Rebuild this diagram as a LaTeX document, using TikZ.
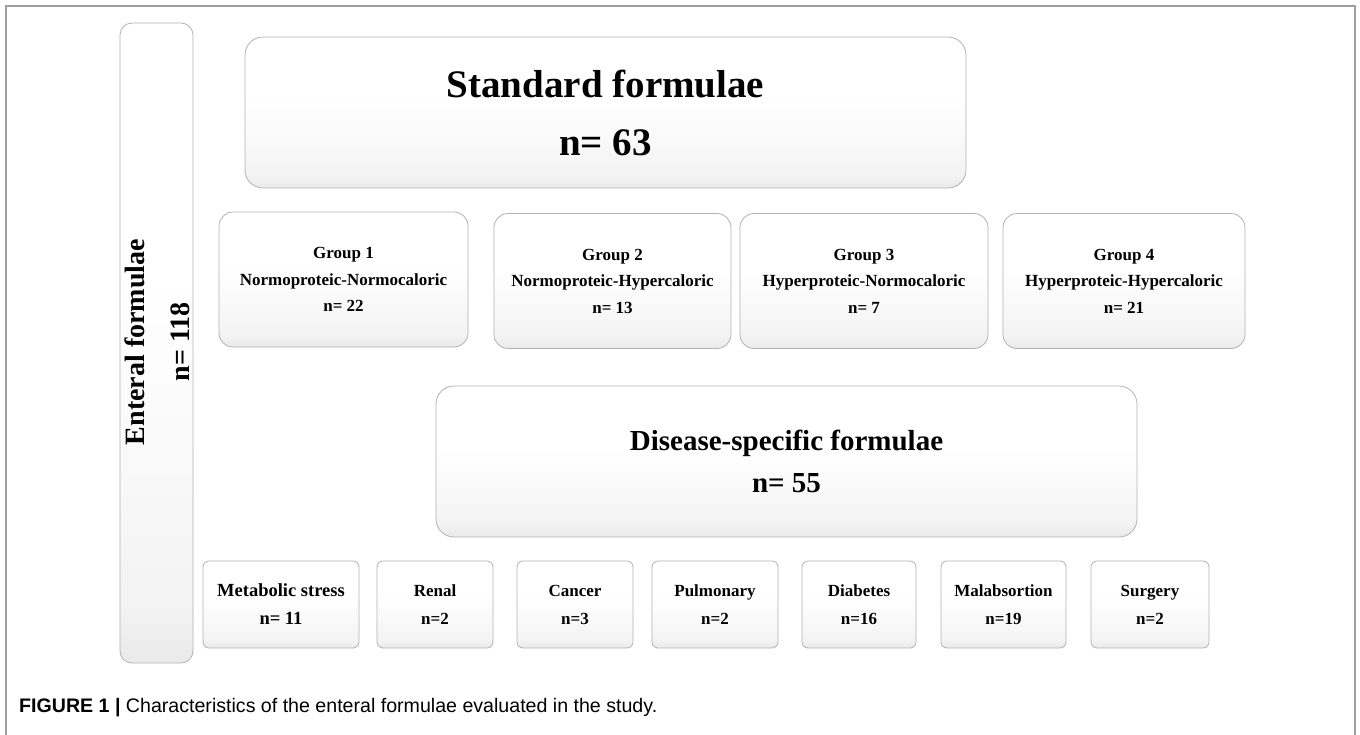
\documentclass[tikz,border=0pt]{standalone}
\usepackage{fontspec}
\setmainfont{Liberation Serif}
\newfontfamily\capfont{Liberation Sans}
\usetikzlibrary{shapes,positioning,calc}

\pgfdeclareverticalshading{cardshade}{100bp}{color(0bp)=(gray!17); color(25bp)=(gray!17); color(29bp)=(gray!10); color(40bp)=(gray!5); color(55bp)=(white); color(100bp)=(white)}

\begin{document}
\begin{tikzpicture}[x=1pt, y=-1pt,
    card/.style={draw=gray!60, line width=0.8pt, rounded corners=14pt,
        shading=cardshade, align=center, inner sep=0pt, font=\bfseries},
    bigcard/.style={card, rounded corners=18pt, font=\bfseries\fontsize{39}{58}\selectfont},
    midcard/.style={card, rounded corners=18pt, font=\bfseries\fontsize{29}{42}\selectfont},
    groupcard/.style={card, minimum height=135pt, font=\bfseries\fontsize{17}{26.5}\selectfont},
    smallcard/.style={card, rounded corners=6pt, minimum height=87pt, font=\bfseries\fontsize{17}{28}\selectfont}]
    \useasboundingbox (0,0) rectangle (1360,734);

    % frame
    \draw[gray!75, line width=1.2pt] (6,740) -- (6,6) -- (1355,6) -- (1355,740);

    % Enteral formulae
    \node[card, rounded corners=12pt, minimum width=73pt, minimum height=640pt] (enteral) at (156.5,343) {};
    \node[rotate=90, align=center, font=\bfseries\fontsize{28}{45}\selectfont] (enteraltxt) at (157.5,342) {Enteral formulae\\n= 118};

    % Standard formulae
    \node[bigcard, minimum width=721pt, minimum height=151pt] (standard) at (605.5,112.5) {Standard formulae\\n= 63};

    % groups
    \node[groupcard, minimum width=249pt] (group1) at (343.5,279.5) {Group 1\\Normoproteic-Normocaloric\\n= 22};
    \node[groupcard, minimum width=237pt] (group2) at (612.5,281) {Group 2\\Normoproteic-Hypercaloric\\n= 13};
    \node[groupcard, minimum width=248pt] (group3) at (864,281) {Group 3\\Hyperproteic-Normocaloric\\n= 7};
    \node[groupcard, minimum width=242pt] (group4) at (1124,281) {Group 4\\Hyperproteic-Hypercaloric\\n= 21};

    % Disease-specific formulae
    \node[midcard, minimum width=701pt, minimum height=151pt] (disease) at (786.5,461.5) {Disease-specific formulae\\n= 55};

    % diseases
    \node[smallcard, minimum width=156pt, font=\bfseries\fontsize{18.5}{28}\selectfont] (metabolic) at (281,604.5) {Metabolic stress\\n= 11};
    \node[smallcard, minimum width=116pt] (renal) at (435,604.5) {Renal\\n=2};
    \node[smallcard, minimum width=116pt] (cancer) at (575,604.5) {Cancer\\n=3};
    \node[smallcard, minimum width=126pt] (pulmonary) at (715,604.5) {Pulmonary\\n=2};
    \node[smallcard, minimum width=114pt] (diabetes) at (859,604.5) {Diabetes\\n=16};
    \node[smallcard, minimum width=125pt] (malabsortion) at (1003.5,604.5) {Malabsortion\\n=19};
    \node[smallcard, minimum width=118pt] (surgery) at (1150,604.5) {Surgery\\n=2};

    % caption
    \node[anchor=west, inner sep=0pt, font=\capfont\fontsize{19.6}{24}\selectfont] (caption) at (19,708) {\textbf{FIGURE 1 |} Characteristics of the enteral formulae evaluated in the study.};
\end{tikzpicture}
\end{document}
